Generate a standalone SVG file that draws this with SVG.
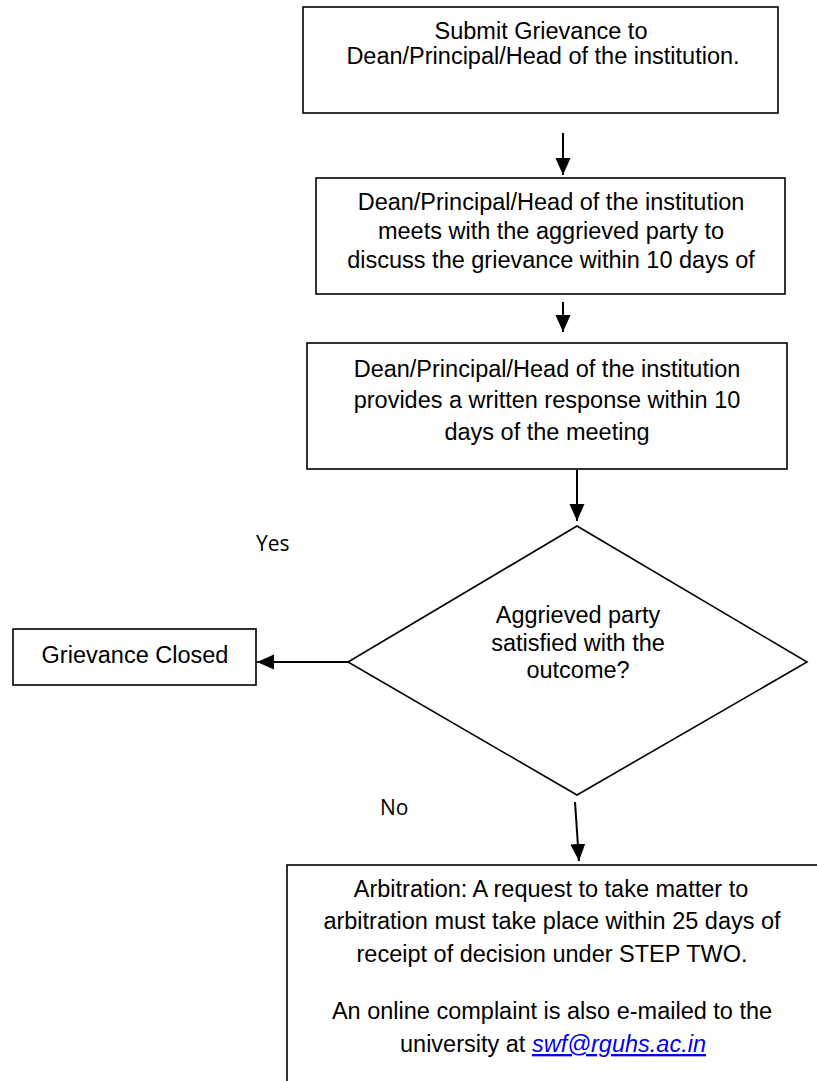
<svg xmlns="http://www.w3.org/2000/svg" width="817" height="1081" viewBox="0 0 817 1081">
<style>
.box{fill:#fff;stroke:#000;stroke-width:1.6}
.t{font-family:"Liberation Sans",Arial,sans-serif;font-size:23.5px;fill:#000;text-anchor:middle}
.lbl{font-family:"Open Sans","Liberation Sans",sans-serif;font-size:21px;fill:#000}
.con{stroke:#000;stroke-width:2;fill:none;marker-end:url(#ah)}
.link{fill:#0000ee;font-style:italic;text-decoration:underline}
</style>
<defs>
<marker id="ah" markerUnits="userSpaceOnUse" markerWidth="18" markerHeight="16" refX="17" refY="7.5" orient="auto">
<path d="M0,0 L17,7.5 L0,15 z" fill="#000"/>
</marker>
</defs>
<rect width="817" height="1081" fill="#fff"/>
<g id="n1">
<rect class="box" x="303" y="7" width="475" height="106"/>
<text class="t" x="541" y="39">Submit Grievance to</text>
<text class="t" x="543" y="64">Dean/Principal/Head of the institution.</text>
</g>
<g id="n2">
<rect class="box" x="316" y="178" width="469" height="116"/>
<text class="t" x="551" y="210">Dean/Principal/Head of the institution</text>
<text class="t" x="551" y="239">meets with the aggrieved party to</text>
<text class="t" x="551" y="268">discuss the grievance within 10 days of</text>
</g>
<g id="n3">
<rect class="box" x="307" y="343" width="480" height="126"/>
<text class="t" x="547" y="377">Dean/Principal/Head of the institution</text>
<text class="t" x="547" y="408">provides a written response within 10</text>
<text class="t" x="547" y="440">days of the meeting</text>
</g>
<g id="n4">
<polygon class="box" points="577,526 807,662 577,795 348,662"/>
<text class="t" x="578" y="623">Aggrieved party</text>
<text class="t" x="578" y="651">satisfied with the</text>
<text class="t" x="578" y="678">outcome?</text>
</g>
<g id="n5">
<rect class="box" x="13" y="629" width="243" height="56"/>
<text class="t" x="135" y="663">Grievance Closed</text>
</g>
<g id="n6">
<rect class="box" x="287" y="865" width="600" height="300"/>
<text class="t" x="551" y="897">Arbitration: A request to take matter to</text>
<text class="t" x="552" y="929">arbitration must take place within 25 days of</text>
<text class="t" x="552" y="962">receipt of decision under STEP TWO.</text>
<text class="t" x="552" y="1019">An online complaint is also e-mailed to the</text>
<text class="t" x="553" y="1052">university at <tspan class="link">swf@rguhs.ac.in</tspan></text>
</g>
<g id="labels">
<text class="lbl" x="256" y="551">Yes</text>
<text class="lbl" x="380" y="815">No</text>
</g>
<g id="connectors">
<line class="con" x1="563" y1="133" x2="563" y2="175"/>
<line class="con" x1="563" y1="302" x2="563" y2="332"/>
<line class="con" x1="577" y1="470" x2="577" y2="521"/>
<line class="con" x1="348" y1="662" x2="257" y2="662"/>
<line class="con" x1="575" y1="802" x2="579" y2="861"/>
</g>
</svg>
